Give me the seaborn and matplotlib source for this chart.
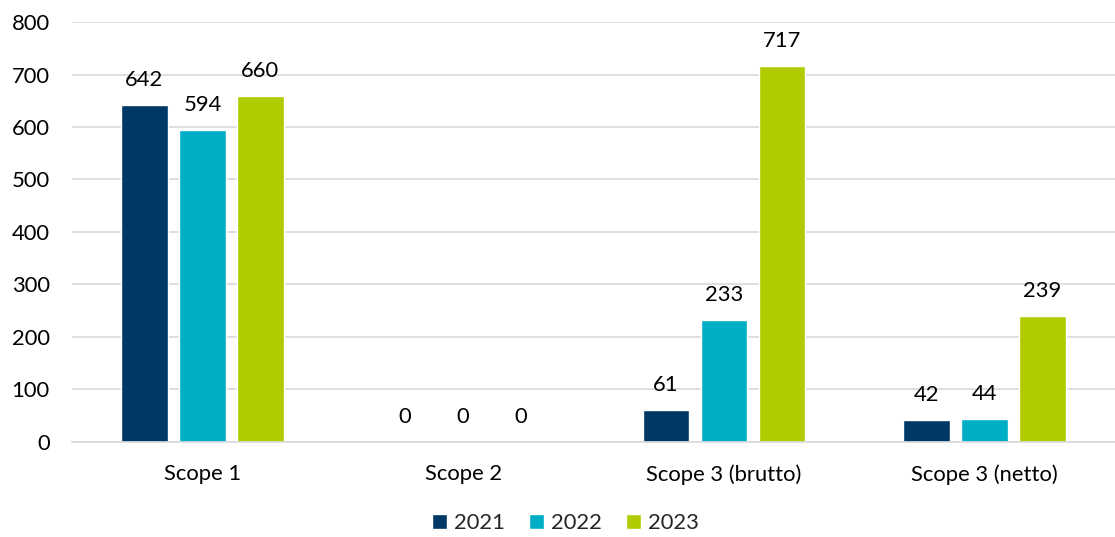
import matplotlib
matplotlib.use("Agg")
import matplotlib.pyplot as plt
import pandas as pd
import seaborn as sns

categories = ["Scope 1", "Scope 2", "Scope 3 (brutto)", "Scope 3 (netto)"]
years = ["2021", "2022", "2023"]
values_2021 = [642, 0, 61, 42]
values_2022 = [594, 0, 233, 44]
values_2023 = [660, 0, 717, 239]
yticks = [0, 100, 200, 300, 400, 500, 600, 700, 800]
colors = ["#003865", "#00AFC6", "#B0CB00"]

rows = []
for year, vals in zip(years, [values_2021, values_2022, values_2023]):
    for cat, v in zip(categories, vals):
        rows.append({"Kategorie": cat, "Jahr": year, "Wert": v})
df = pd.DataFrame(rows)

sns.set_theme(style="white")
plt.rcParams["font.family"] = ["Lato", "DejaVu Sans"]
FS = 15.8

fig = plt.figure(figsize=(11.15, 5.37), dpi=100)
ax = fig.add_axes([0.0646, 0.177, 0.9354, 0.782])

sns.barplot(data=df, x="Kategorie", y="Wert", hue="Jahr", order=categories,
            hue_order=years, palette=colors, width=0.667, gap=0.2,
            saturation=1, ax=ax, legend=True)

ax.set_ylim(0, 800)
ax.set_yticks(yticks)
ax.set_xlim(-0.5, 3.5)
ax.yaxis.grid(True, color="#D9D9D9", linewidth=1.2)
ax.set_axisbelow(True)
for side in ["top", "right", "left"]:
    ax.spines[side].set_visible(False)
ax.spines["bottom"].set_color("#D9D9D9")
ax.spines["bottom"].set_linewidth(1.2)
ax.tick_params(axis="both", length=0, labelsize=FS, colors="#000000")
ax.tick_params(axis="y", pad=16)
ax.tick_params(axis="x", pad=16)
ax.set_xlabel("")
ax.set_ylabel("")

for container in ax.containers:
    for bar in container:
        h = bar.get_height()
        ax.annotate(f"{h:.0f}", (bar.get_x() + bar.get_width() / 2, h),
                    xytext=(0, 18), textcoords="offset points",
                    ha="center", va="center", fontsize=FS, color="#000000")

handles, labels = ax.get_legend_handles_labels()
ax.get_legend().remove()
fig.legend(handles, labels, loc="lower center", bbox_to_anchor=(0.507, -0.03),
           ncol=3, frameon=False, fontsize=FS, handlelength=0.7,
           handleheight=0.7, handletextpad=0.3, columnspacing=1.1)

fig.savefig("out.png", dpi=100)
